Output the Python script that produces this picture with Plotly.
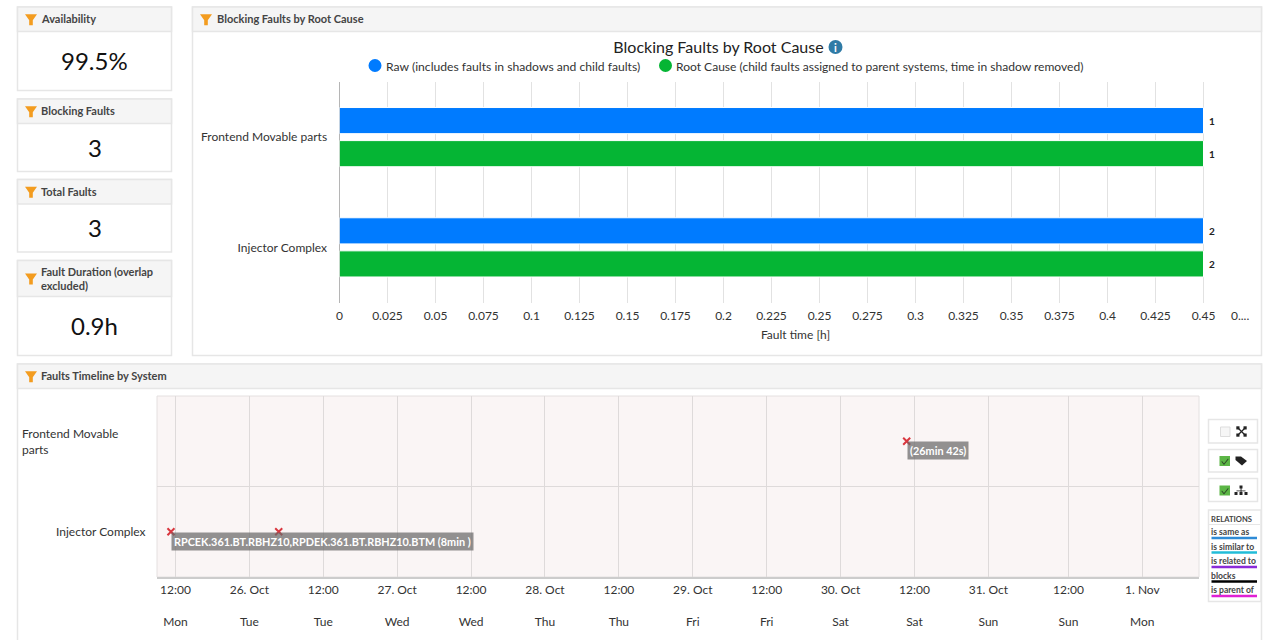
import plotly.graph_objects as go

# ---------- data ----------
systems = ["Frontend Movable parts", "Injector Complex"]
raw_hours = [0.45, 0.45]
root_cause_hours = [0.45, 0.45]
fault_counts = ["1", "2"]
x_ticks = [0, 0.025, 0.05, 0.075, 0.1, 0.125, 0.15, 0.175, 0.2, 0.225, 0.25, 0.275,
           0.3, 0.325, 0.35, 0.375, 0.4, 0.425, 0.45, 0.475]
x_tick_labels = ["0", "0.025", "0.05", "0.075", "0.1", "0.125", "0.15", "0.175", "0.2", "0.225", "0.25",
                 "0.275", "0.3", "0.325", "0.35", "0.375", "0.4", "0.425", "0.45", ""]

timeline_systems = ["Injector Complex", "Frontend Movable<br>parts"]
fault_times = ["2021-10-25 09:16", "2021-10-26 02:46", "2021-10-30 08:44"]
fault_rows = ["Injector Complex", "Injector Complex", "Frontend Movable<br>parts"]
fault_notes = ["RPCEK.361.BT.RBHZ10,RPDEK.361.BT.RBHZ10.BTM (8min )", "", "(26min 42s)"]
# UTC instants of the local (Europe) ticks: clocks change on 31 Oct
time_ticks = ["2021-10-25 10:00", "2021-10-25 22:00", "2021-10-26 10:00", "2021-10-26 22:00",
              "2021-10-27 10:00", "2021-10-27 22:00", "2021-10-28 10:00", "2021-10-28 22:00",
              "2021-10-29 10:00", "2021-10-29 22:00", "2021-10-30 10:00", "2021-10-30 22:00",
              "2021-10-31 11:00", "2021-10-31 23:00"]
time_top = ["12:00", "26. Oct", "12:00", "27. Oct", "12:00", "28. Oct", "12:00", "29. Oct",
            "12:00", "30. Oct", "12:00", "31. Oct", "12:00", "1. Nov"]
time_bottom = ["Mon", "Tue", "Tue", "Wed", "Wed", "Thu", "Thu", "Fri", "Fri", "Sat", "Sat", "Sun", "Sun", "Mon"]
time_range = ["2021-10-25 07:00", "2021-11-01 08:12"]

kpis = [("Availability", "99.5%"), ("Blocking Faults", "3"), ("Total Faults", "3"),
        ("Fault Duration (overlap<br>excluded)", "0.9h")]
relations = [("is same as", "#2e8bd6"), ("is similar to", "#22bcd8"), ("is related to", "#8a2bd8"),
             ("blocks", "#000000"), ("is parent of", "#e020d4")]

BLUE, GREEN = "#007bff", "#05b534"
FONT = "Lato"
W, H = 1264, 640
BORDER, HEAD = "#e6e6e6", "#f5f5f5"

px = lambda x: x / W
py = lambda y: 1 - y / H
shapes, notes = [], []


def rect(x0, y0, x1, y1, fill="rgba(0,0,0,0)", line=BORDER, width=1.5):
    shapes.append(dict(type="rect", xref="paper", yref="paper", x0=px(x0), x1=px(x1), y0=py(y0), y1=py(y1),
                       fillcolor=fill, line=dict(color=line, width=width), layer="below"))


def hline(x0, x1, y, color, width=1):
    shapes.append(dict(type="line", xref="paper", yref="paper", x0=px(x0), x1=px(x1), y0=py(y), y1=py(y),
                       line=dict(color=color, width=width), layer="below"))


def poly(points, fill, line_color=None, width=0):
    path = "M" + " L".join(f"{px(a):.5f},{py(b):.5f}" for a, b in points) + " Z"
    shapes.append(dict(type="path", xref="paper", yref="paper", path=path, fillcolor=fill,
                       line=dict(color=line_color or fill, width=width), layer="above"))


def text(x, y, s, size=12, color="#333333", anchor="left", bold=False, align=None):
    notes.append(dict(xref="paper", yref="paper", x=px(x), y=py(y), text=f"<b>{s}</b>" if bold else s,
                      showarrow=False, xanchor=anchor, yanchor="middle", align=align or anchor,
                      font=dict(family=FONT, size=size, color=color), borderpad=0))


def funnel(x, y):
    poly([(x - 6, y - 5), (x + 6, y - 5), (x + 1.8, y + 1), (x + 1.8, y + 6), (x - 1.8, y + 6), (x - 1.8, y + 1)],
         "#f39c1f")


def panel(x0, y0, header_bottom, x1, y1, title, text_dx=22.5):
    rect(x0, y0, x1, y1, "#ffffff")
    rect(x0, y0, x1, header_bottom, HEAD)
    funnel(x0 + 13.5, (y0 + header_bottom) / 2)
    text(x0 + text_dx, (y0 + header_bottom) / 2 - 0.5, title, 11, "#444444", bold=True)


# ---------- cards ----------
card_boxes = [(7, 31.5, 90.5, 60.5), (99, 123.5, 171.5, 147.5), (179.5, 204, 252, 228), (260.5, 296.5, 355.5, 325.5)]
for (label, value), (top, head, bottom, value_y) in zip(kpis, card_boxes):
    panel(17.5, top, head, 171.5, bottom, label)
    text(94.5, value_y, value, 24, "#111111", "center")
panel(192.5, 7, 31.5, 1261.5, 355.5, "Blocking Faults by Root Cause", 23.5)
panel(17.5, 364, 388.5, 1261.5, 652, "Faults Timeline by System")

# ---------- bar chart legend and chrome ----------
for cx, color, label, tx, size in [
    (375, BLUE, "Raw (includes faults in shadows and child faults)", 385, 12.15),
    (665.5, GREEN, "Root Cause (child faults assigned to parent systems, time in shadow removed)", 675, 12.05),
]:
    shapes.append(dict(type="circle", xref="paper", yref="paper", x0=px(cx - 6.5), x1=px(cx + 6.5),
                       y0=py(65.5 + 6.5), y1=py(65.5 - 6.5), fillcolor=color, line=dict(width=0), layer="above"))
    text(tx, 66, label, size, "#333333")
shapes.append(dict(type="circle", xref="paper", yref="paper", x0=px(828.5), x1=px(842.5), y0=py(54), y1=py(40),
                   fillcolor="#2f7ba6", line=dict(width=0), layer="above"))
text(835.5, 47, "i", 11, "#ffffff", "center", True)
text(1240, 315, "0....", 12, "#333333", "center")

# ---------- right-hand controls ----------
for y0, y1 in [(419.5, 443), (449.5, 472), (478.5, 501.5)]:
    rect(1208.5, y0, 1257.5, y1, "#ffffff")
shapes.append(dict(type="rect", xref="paper", yref="paper", x0=px(1220.5), x1=px(1230), y0=py(436.5), y1=py(427),
                   fillcolor="#f6f6f6", line=dict(color="#dddddd", width=1), layer="above"))
for cy in (461, 490.5):
    poly([(1219.5, cy - 5), (1230, cy - 5), (1230, cy + 5), (1219.5, cy + 5)], "#5cb646")
    poly([(1222, cy), (1224, cy + 2.5), (1228, cy - 2.5), (1228.6, cy - 1.8), (1224, cy + 4), (1221.4, cy + 0.8)], "#2f4a2a")
# expand icon
for sx, sy in [(-1, -1), (1, -1), (-1, 1), (1, 1)]:
    cx, cy = 1241.5 + sx * 3.6, 431.5 + sy * 3.6
    poly([(cx - 1.6, cy - 1.6), (cx + 1.6, cy - 1.6), (cx + 1.6, cy + 1.6), (cx - 1.6, cy + 1.6)], "#222222")
shapes.append(dict(type="line", xref="paper", yref="paper", x0=px(1238), x1=px(1245), y0=py(428), y1=py(435),
                   line=dict(color="#222222", width=1.3), layer="above"))
shapes.append(dict(type="line", xref="paper", yref="paper", x0=px(1238), x1=px(1245), y0=py(435), y1=py(428),
                   line=dict(color="#222222", width=1.3), layer="above"))
# tags icon
poly([(1235.5, 456.5), (1241, 456.5), (1247, 461), (1242, 465.5), (1235.5, 460)], "#222222")
# hierarchy icon
poly([(1239.5, 485.5), (1242.5, 485.5), (1242.5, 488.5), (1239.5, 488.5)], "#222222")
poly([(1240.6, 488), (1241.5, 488), (1241.5, 492), (1240.6, 492)], "#222222")
poly([(1236.5, 490.5), (1245.5, 490.5), (1245.5, 491.3), (1236.5, 491.3)], "#222222")
for ix in (1236, 1241, 1246):
    poly([(ix - 1.5, 492), (ix + 1.5, 492), (ix + 1.5, 495), (ix - 1.5, 495)], "#222222")

rect(1208.5, 510, 1261, 601.5, "#ffffff")
text(1210, 519, "RELATIONS", 7.6, "#444444", bold=True)
hline(1209, 1260, 524.5, "#e6e6e6")
for i, (name, color) in enumerate(relations):
    text(1210, 532 + i * 14.5, name, 8.6, "#444444", bold=True)
    hline(1211.5, 1257, 538 + i * 14.5, color, 2.5)

# ---------- timeline plot background ----------
shapes.append(dict(type="rect", xref="x2 domain", yref="y2 domain", x0=0, x1=1, y0=0, y1=1,
                   fillcolor="#faf5f5", line=dict(color="#e4e0e0", width=1), layer="below"))

# ---------- traces ----------
fig = go.Figure()
bar_text = dict(size=10, color="#222222", family=FONT)
for name, vals, color in [("Raw (includes faults in shadows and child faults)", raw_hours, BLUE),
                          ("Root Cause (child faults assigned to parent systems, time in shadow removed)",
                           root_cause_hours, GREEN)]:
    fig.add_trace(go.Bar(y=systems, x=vals, orientation="h", name=name, xaxis="x", yaxis="y",
                         marker=dict(color=color, line=dict(color="#ffffff", width=1)),
                         text=[f"\u00a0<b>{c}</b>" for c in fault_counts], textposition="outside", textangle=0,
                         textfont=bar_text, cliponaxis=False, showlegend=False))

fig.add_trace(go.Scatter(x=fault_times, y=fault_rows, mode="markers", xaxis="x2", yaxis="y2", showlegend=False,
                         marker=dict(symbol="x-thin", size=7, color="#d9363e",
                                     line=dict(color="#d9363e", width=2))))

# point labels
for t, row, note in zip(fault_times, fault_rows, fault_notes):
    if note:
        notes.append(dict(xref="x2", yref="y2", x=t, y=row, text=f"<b>{note}</b>", showarrow=False,
                          xanchor="left", yanchor="top", xshift=0.5, yshift=0, bgcolor="rgba(105,105,105,0.72)",
                          borderpad=2, font=dict(family=FONT, size=10.85, color="#ffffff")))
# timeline row labels (left aligned when wrapped)
text(20.5, 441, timeline_systems[1], 12, "#333333", align="left")
text(146.5, 531, timeline_systems[0], 12, "#333333", "right")

fig.update_layout(
    width=W, height=H, margin=dict(l=0, r=0, t=0, b=0, autoexpand=False), paper_bgcolor="#ffffff",
    plot_bgcolor="rgba(0,0,0,0)",
    barmode="group", bargap=0.4, bargroupgap=0.21, showlegend=False,
    font=dict(family=FONT, size=12, color="#333333"),
    title=dict(text="Blocking Faults by Root Cause", x=718.5 / W, y=py(47), xanchor="center", yanchor="middle",
               automargin=False, font=dict(family=FONT, size=16, color="#222222")),
    xaxis=dict(domain=[px(339.5), px(1251.5)], range=[0, 0.475], anchor="y", tickmode="array", tickvals=x_ticks,
               ticktext=x_tick_labels, showgrid=True, gridcolor="#e2e2e2", gridwidth=1, zeroline=False,
               showline=False, ticks="outside", ticklen=2, tickcolor="rgba(0,0,0,0)", layer="below traces",
               automargin=False, tickfont=dict(family=FONT, size=12, color="#333333"),
               title=dict(text="Fault time [h]", standoff=8, font=dict(family=FONT, size=12, color="#333333"))),
    yaxis=dict(domain=[py(302.5), py(82)], anchor="x", autorange="reversed", type="category", showgrid=False,
               showline=True, linecolor="#b5b5b5", linewidth=1, ticks="outside", ticklen=9, automargin=False,
               tickcolor="rgba(0,0,0,0)", layer="below traces", tickfont=dict(family=FONT, size=12, color="#333333")),
    xaxis2=dict(domain=[px(157), px(1199)], type="date", range=time_range, anchor="y2", tickmode="array",
                tickvals=time_ticks, ticktext=[f"{a}<br><br>{b}" for a, b in zip(time_top, time_bottom)],
                tickangle=0, showgrid=True, gridcolor="#dedada", gridwidth=1, zeroline=False, showline=True,
                linecolor="#cccccc", linewidth=2, ticks="outside", ticklen=1, tickcolor="rgba(0,0,0,0)",
                automargin=False, tickfont=dict(family=FONT, size=12, color="#333333")),
    yaxis2=dict(domain=[py(577), py(396)], anchor="x2", type="category", categoryorder="array",
                categoryarray=timeline_systems, range=[-0.5, 1.5], showticklabels=False, ticks="",
                tickson="boundaries", showgrid=True, gridcolor="#dedada", gridwidth=1, zeroline=False,
                showline=False, automargin=False),
    shapes=shapes, annotations=notes,
)

fig.write_html("out.html", config={"displayModeBar": False},
               post_script="document.body.style.margin='0';document.documentElement.style.overflow='hidden';")
